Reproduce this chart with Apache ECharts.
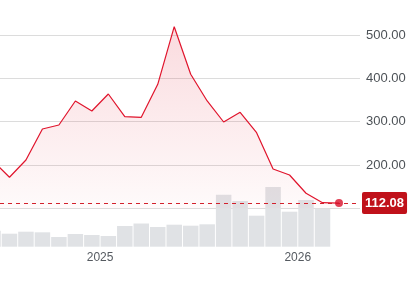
<!DOCTYPE html>
<html>
<head>
<meta charset="utf-8">
<script src="https://cdn.jsdelivr.net/npm/echarts@6/dist/echarts.min.js"></script>
<style>html,body{margin:0;padding:0;background:#fff;}#c{width:418px;height:281px;}</style>
</head>
<body>
<div id="c"></div>
<script>
// Monthly categories
const months = ['2024-06','2024-07','2024-08','2024-09','2024-10','2024-11','2024-12',
  '2025-01','2025-02','2025-03','2025-04','2025-05','2025-06','2025-07','2025-08','2025-09',
  '2025-10','2025-11','2025-12','2026-01','2026-02','2026-03'];
// Price (close)
const price = [209, 171.6, 211.5, 283, 292.3, 347.7, 324.6, 363.8, 311.5, 310, 386.2, 519.2,
  409.3, 347.7, 299.2, 321.6, 274.5, 190.8, 176.9, 134.7, 113, 112.08];
// Volume (millions)
const volume = [1.6, 1.3, 1.5, 1.44, 0.97, 1.27, 1.17, 1.07, 2.07, 2.32, 1.97, 2.2,
  2.1, 2.24, 5.2, 4.57, 3.1, 5.97, 3.5, 4.67, 3.8, null];
// Price axis ticks
const priceTicks = [100, 200, 300, 400, 500];
// Year tick labels
const yearLabels = ['2025', '2026'];

const yearPos = yearLabels.map(y => months.indexOf(y + '-01') - 0.5);
const lastIdx = price.length - 1;
const last = price[lastIdx];

const font = "'Liberation Sans', Arial, sans-serif";
const xMin = 0.425, xMax = 22.276;

const chart = echarts.init(document.getElementById('c'), null, {renderer: 'canvas'});
chart.setOption({
  animation: false,
  backgroundColor: '#ffffff',
  grid: [
    {left: 0, right: 58, top: 35, bottom: 72.7},
    {left: 0, right: 58, top: 166.7, bottom: 34.3}
  ],
  xAxis: [
    {type: 'value', gridIndex: 0, min: xMin, max: xMax, show: false, splitLine: {show: false}},
    {type: 'value', gridIndex: 1, min: xMin, max: xMax,
      axisLine: {show: false}, axisTick: {show: false}, splitLine: {show: false},
      axisLabel: {
        customValues: yearPos,
        formatter: v => { const i = yearPos.findIndex(p => Math.abs(p - v) < 1e-6); return i >= 0 ? yearLabels[i] : ''; },
        color: '#555a60', fontSize: 12, fontFamily: font, margin: 5
      }
    }
  ],
  yAxis: [
    {type: 'value', gridIndex: 0, position: 'right', min: priceTicks[0], max: priceTicks[priceTicks.length-1], interval: 100,
      axisLine: {show: false}, axisTick: {show: false},
      splitLine: {lineStyle: {color: '#dcdcdc', width: 1}},
      axisLabel: {showMinLabel: false, formatter: v => v.toFixed(2), color: '#4d5257', fontSize: 13, fontFamily: font, margin: 6}
    },
    {type: 'value', gridIndex: 1, min: 0, max: 8, show: false, splitLine: {show: false}}
  ],
  series: [
    {
      type: 'bar', xAxisIndex: 1, yAxisIndex: 1,
      data: volume.map((v, i) => [i, v]),
      barWidth: 15.5,
      itemStyle: {color: '#e0e2e5'},
      z: 1
    },
    {
      type: 'line', xAxisIndex: 0, yAxisIndex: 0,
      data: price.map((v, i) => [i, v]),
      showSymbol: false, clip: false,
      lineStyle: {color: '#e0142c', width: 1.2},
      areaStyle: {
        color: new echarts.graphic.LinearGradient(0, 0, 0, 1, [
          {offset: 0, color: 'rgba(226, 40, 60, 0.24)'},
          {offset: 1, color: 'rgba(226, 40, 60, 0.03)'}
        ])
      },
      z: 3,
      markLine: {
        silent: true, symbol: 'none',
        lineStyle: {color: '#d2202c', width: 1, type: [4, 4]},
        data: [{yAxis: last}],
        label: {
          show: true, position: 'end', distance: 2,
          formatter: () => last.toFixed(2),
          color: '#ffffff', fontWeight: 'bold', fontSize: 13, fontFamily: font,
          backgroundColor: '#c0111a', padding: [5, 3, 4, 3], borderRadius: 2
        }
      }
    },
    {
      type: 'scatter', xAxisIndex: 0, yAxisIndex: 0,
      data: [[lastIdx, last]],
      symbolSize: 8,
      itemStyle: {color: '#d8102a'},
      z: 5
    }
  ]
});
</script>
</body>
</html>
